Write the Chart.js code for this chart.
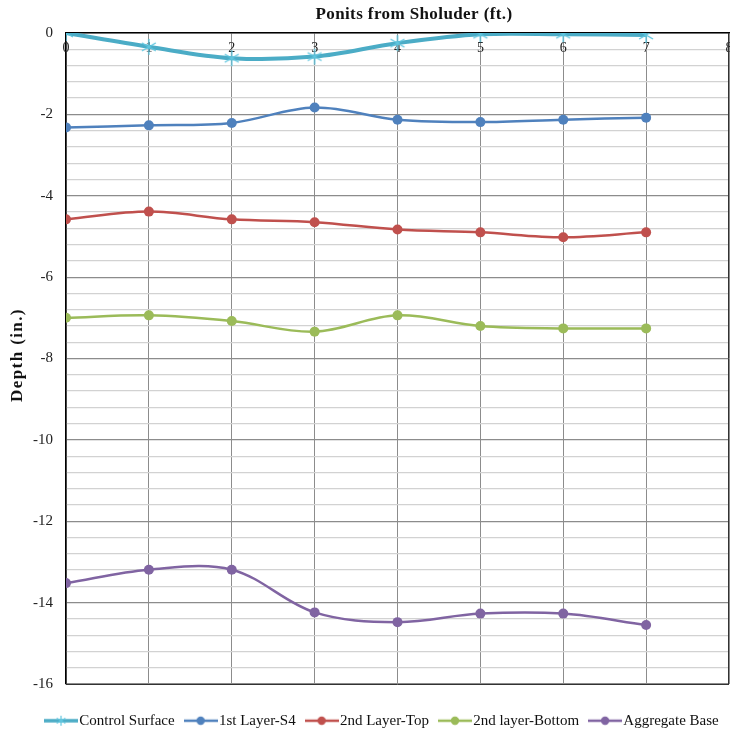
<!DOCTYPE html>
<html>
<head>
<meta charset="utf-8">
<script src="https://cdn.jsdelivr.net/npm/chart.js@4.4.1/dist/chart.umd.min.js"></script>
<style>
  html, body { margin: 0; padding: 0; background: #fff; }
  #wrap { width: 730px; height: 731px; position: relative; }
</style>
</head>
<body>
<div id="wrap"><canvas id="c" width="730" height="731"></canvas></div>
<script>
// Offsets from the shoulder (ft.)
const positions = [0, 1, 2, 3, 4, 5, 6, 7];
const xTicks = [0, 1, 2, 3, 4, 5, 6, 7, 8];

// Depth readings (in.) per layer
const controlSurface = [0, -0.34, -0.62, -0.58, -0.25, -0.03, -0.03, -0.05];
const layer1S4 = [-2.32, -2.27, -2.21, -1.83, -2.13, -2.19, -2.13, -2.08];
const layer2Top = [-4.58, -4.39, -4.58, -4.65, -4.83, -4.9, -5.02, -4.9];
const layer2Bottom = [-7.0, -6.94, -7.08, -7.34, -6.94, -7.2, -7.26, -7.26];
const aggregateBase = [-13.52, -13.19, -13.19, -14.24, -14.48, -14.27, -14.27, -14.55];

const seriesNames = ['Control Surface', '1st Layer-S4', '2nd Layer-Top', '2nd layer-Bottom', 'Aggregate Base'];
const seriesValues = [controlSurface, layer1S4, layer2Top, layer2Bottom, aggregateBase];
const seriesColors = ['#4bacc6', '#4f81bd', '#c0504d', '#9bbb59', '#8064a2'];

const xTitle = 'Ponits from Sholuder (ft.)';
const yTitle = 'Depth (in.)';

const SERIF = '"Liberation Serif", "Times New Roman", serif';

// Legend swatch: a short line with the series marker on it
function legendIcon(color, star) {
  const cv = document.createElement('canvas');
  cv.width = 34; cv.height = 12;
  const g = cv.getContext('2d');
  g.strokeStyle = color;
  g.lineWidth = star ? 3.5 : 2.5;
  g.beginPath(); g.moveTo(0, 6); g.lineTo(34, 6); g.stroke();
  if (star) {
    g.lineWidth = 1.2;
    g.strokeStyle = '#5fc6df';
    const r = 5;
    g.beginPath();
    g.moveTo(17, 6 - r); g.lineTo(17, 6 + r);
    g.moveTo(17 - r * 0.87, 6 - r * 0.5); g.lineTo(17 + r * 0.87, 6 + r * 0.5);
    g.moveTo(17 - r * 0.87, 6 + r * 0.5); g.lineTo(17 + r * 0.87, 6 - r * 0.5);
    g.stroke();
  } else {
    g.fillStyle = color;
    g.beginPath(); g.arc(17, 6, 4.2, 0, Math.PI * 2); g.fill();
  }
  return cv;
}

// Six-spoke asterisk marker for the control surface
function starMarker(color) {
  const s = 20;
  const cv = document.createElement('canvas');
  cv.width = s; cv.height = s;
  const g = cv.getContext('2d');
  g.strokeStyle = color; g.lineWidth = 1.4;
  const c = s / 2, r = 8;
  g.beginPath();
  g.moveTo(c, c - r); g.lineTo(c, c + r);
  g.moveTo(c - r * 0.87, c - r * 0.5); g.lineTo(c + r * 0.87, c + r * 0.5);
  g.moveTo(c - r * 0.87, c + r * 0.5); g.lineTo(c + r * 0.87, c - r * 0.5);
  g.stroke();
  return cv;
}

const datasets = seriesNames.map((name, i) => {
  const isControl = i === 0;
  return {
    label: name,
    data: positions.map((x, k) => ({ x: x, y: seriesValues[i][k] })),
    borderColor: seriesColors[i],
    backgroundColor: seriesColors[i],
    borderWidth: isControl ? 4 : 2.5,
    tension: 0.35,
    cubicInterpolationMode: 'default',
    pointStyle: isControl ? starMarker('#5fc6df') : 'circle',
    pointRadius: isControl ? 8 : 5,
    pointBorderWidth: 0,
    pointHoverRadius: isControl ? 8 : 5,
    legendIcon: legendIcon(seriesColors[i], isControl)
  };
});

// Axis titles, inner x tick labels, and the outer frame of the plot
const frameAndTitles = {
  id: 'frameAndTitles',
  beforeLayout(chart) {
    // fixed-height, single-row legend band under the plot
    const lg = chart.legend;
    if (lg && !lg._fixedFit) {
      const fit = lg.fit;
      lg.fit = function () {
        const w = this.maxWidth;
        this.maxWidth = w + 80;
        fit.call(this);
        this.maxWidth = w;
        this.width = w;
        this.height = 47;
      };
      lg._fixedFit = true;
    }
  },
  afterLayout(chart) {
    if (chart.legend) {
      chart.legend.left += 20;
      chart.legend.right += 20;
    }
  },
  beforeDatasetsDraw(chart) {
    const xs = chart.scales.x, area = chart.chartArea, ctx = chart.ctx;
    ctx.save();
    ctx.font = '14px ' + SERIF;
    ctx.fillStyle = '#222';
    ctx.textAlign = 'center';
    ctx.textBaseline = 'middle';
    xTicks.forEach(v => ctx.fillText(String(v), xs.getPixelForValue(v), area.top + 15));
    ctx.restore();
  },
  afterDraw(chart) {
    const a = chart.chartArea, ctx = chart.ctx;
    ctx.save();
    ctx.strokeStyle = '#333';
    ctx.lineWidth = 1;
    ctx.beginPath();
    ctx.moveTo(a.left, a.bottom + 0.5); ctx.lineTo(a.right, a.bottom + 0.5);
    ctx.moveTo(a.right - 0.5, a.top); ctx.lineTo(a.right - 0.5, a.bottom);
    ctx.stroke();

    ctx.fillStyle = '#111';
    ctx.textAlign = 'center';
    ctx.textBaseline = 'middle';
    ctx.font = 'bold 17px ' + SERIF;
    ctx.letterSpacing = '0.4px';
    ctx.fillText(xTitle, 414, 15);

    ctx.font = 'bold 17px ' + SERIF;
    ctx.letterSpacing = '1.4px';
    ctx.translate(18, 355);
    ctx.rotate(-Math.PI / 2);
    ctx.fillText(yTitle, 0, 0);
    ctx.restore();
  }
};

const isMajor = v => Math.abs(v / 2 - Math.round(v / 2)) < 1e-6;

new Chart(document.getElementById('c'), {
  type: 'line',
  data: { datasets },
  options: {
    responsive: false,
    animation: false,
    layout: { autoPadding: false, padding: { left: 0, right: 1, top: 0, bottom: 0 } },
    plugins: {
      tooltip: { enabled: false },
      legend: {
        position: 'bottom',
        title: { display: true, text: '', font: { size: 10 }, padding: { top: 2, bottom: 0 } },
        labels: {
          usePointStyle: true,
          pointStyleWidth: 21.5,
          padding: 15.25,
          color: '#111',
          font: { family: SERIF, size: 15 },
          generateLabels(chart) {
            return chart.data.datasets.map((d, i) => ({
              text: d.label,
              pointStyle: d.legendIcon,
              fillStyle: d.borderColor,
              strokeStyle: d.borderColor,
              lineWidth: 0,
              hidden: false,
              datasetIndex: i,
              fontColor: '#111'
            }));
          }
        }
      }
    },
    scales: {
      x: {
        type: 'linear',
        position: 'top',
        min: 0, max: 8,
        ticks: { display: false, stepSize: 1 },
        afterBuildTicks(scale) { scale.ticks = xTicks.map(v => ({ value: v })); },
        grid: { color: '#8c8c8c', lineWidth: 1, drawTicks: false },
        border: { color: '#000', width: 1.5 },
        title: { display: false },
        afterFit(scale) { scale.height = 33; }
      },
      y: {
        type: 'linear',
        min: -16, max: 0,
        ticks: {
          stepSize: 0.4,
          autoSkip: false,
          padding: 13,
          color: '#222',
          font: { family: SERIF, size: 15 },
          callback: v => isMajor(v) ? String(Math.round(v)) : ''
        },
        grid: {
          color: c => isMajor(c.tick.value) ? '#8c8c8c' : '#d2d2d2',
          lineWidth: 1.2,
          drawTicks: false
        },
        border: { color: '#000', width: 1.5 },
        title: { display: false },
        afterFit(scale) { scale.width = 66; }
      }
    }
  },
  plugins: [frameAndTitles]
});
</script>
</body>
</html>
